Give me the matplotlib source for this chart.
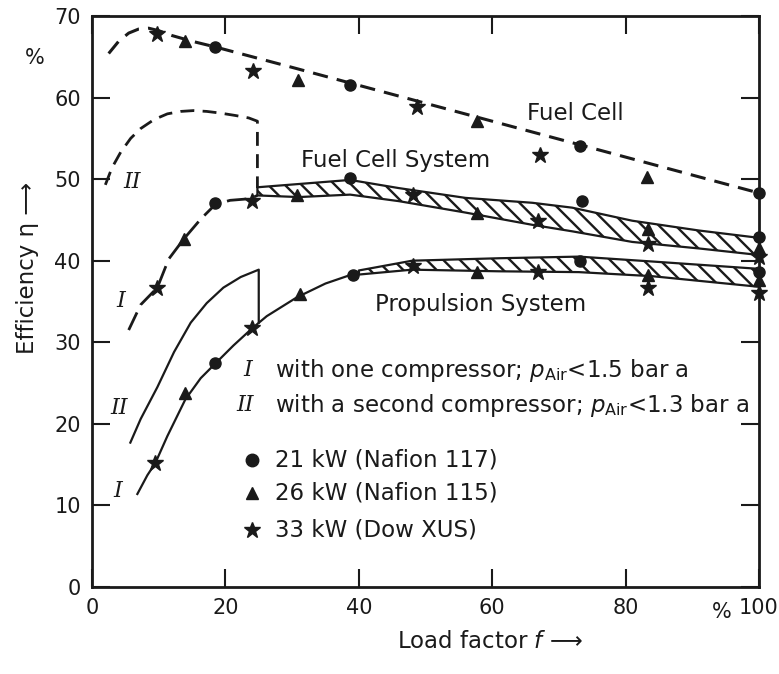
import matplotlib
matplotlib.use("Agg")
import matplotlib.pyplot as plt

# ---- data (load factor f in %, efficiency eta in %) ----
# Fuel cell line
fc_f = [2.5, 4, 5.5, 7, 8.5, 10, 12, 15, 18.5, 30, 45, 60, 75, 90, 100]
fc_eta = [65.4, 66.9, 67.9, 68.4, 68.5, 68.2, 67.6, 66.9, 66.2, 63.7, 60.4, 57.1, 53.8, 50.5, 48.3]

# Fuel cell system, variant II (second compressor)
fcs2_f = [2.0, 3.0, 4.3, 5.8, 7.3, 9.3, 11.3, 13.3, 15.2, 17.2, 19.2, 21.5, 23.5, 24.8, 24.8]
fcs2_eta = [49.3, 51.4, 53.3, 55.0, 56.2, 57.3, 58.0, 58.3, 58.4, 58.3, 58.1, 57.8, 57.5, 57.1, 48.9]

# Fuel cell system, variant I (one compressor)
fcs1_f = [5.5, 7.3, 9.8, 11.5, 13.8, 16.3, 18.5, 20.7, 23.7, 24.8]
fcs1_eta = [31.5, 34.6, 36.7, 40.2, 42.7, 45.1, 46.9, 47.4, 47.6, 48.0]

# Fuel cell system band (f >= 25)
band1_f = [24.8, 31, 38.7, 46, 56, 66, 72, 81, 91, 100]
band1_hi = [49.0, 49.4, 49.9, 48.9, 47.7, 47.1, 46.5, 44.9, 43.7, 42.8]
band1_lo = [48.0, 47.8, 48.1, 47.3, 45.9, 44.4, 43.6, 42.3, 41.5, 40.7]

# Propulsion system, variant II
ps2_f = [5.75, 7.3, 9.8, 12.3, 14.8, 17.2, 19.7, 22.3, 25.0, 25.0]
ps2_eta = [17.7, 20.6, 24.5, 28.8, 32.4, 34.8, 36.7, 38.0, 38.9, 32.4]

# Propulsion system, variant I
ps1_f = [6.8, 8.3, 9.5, 11.3, 14.0, 16.3, 18.5, 21.2, 24.0, 26.2, 30.7, 35, 40]
ps1_eta = [11.4, 13.7, 15.2, 18.5, 23.0, 25.6, 27.4, 29.6, 31.7, 33.2, 35.5, 37.2, 38.6]

# Propulsion system band (f >= 40)
band2_f = [40, 48, 61, 73, 84, 100]
band2_hi = [38.8, 40.0, 40.3, 40.5, 39.9, 39.0]
band2_lo = [38.3, 38.9, 38.7, 38.6, 38.1, 36.8]

# measured points: 21 kW (circle), 26 kW (triangle), 33 kW (star)
fc_circ_f, fc_circ_eta = [18.5, 38.7, 73.2, 100], [66.2, 61.5, 54.1, 48.3]
fc_tri_f, fc_tri_eta = [14, 30.9, 57.7, 83.2], [66.9, 62.2, 57.1, 50.2]
fc_star_f, fc_star_eta = [9.8, 24.2, 48.8, 67.2], [67.8, 63.3, 58.9, 53.0]

fcs_circ_f, fcs_circ_eta = [18.5, 38.7, 73.4, 100], [47.1, 50.1, 47.3, 42.9]
fcs_tri_f, fcs_tri_eta = [13.8, 30.8, 57.7, 83.4, 100], [42.7, 48.1, 45.9, 43.9, 41.5]
fcs_star_f, fcs_star_eta = [9.8, 24.0, 48.2, 66.9, 83.4, 100], [36.7, 47.3, 48.1, 44.9, 42.0, 40.4]

ps_circ_f, ps_circ_eta = [18.5, 39.2, 73.2, 100], [27.4, 38.2, 40.0, 38.6]
ps_tri_f, ps_tri_eta = [14.0, 31.2, 57.7, 83.4, 100], [23.8, 35.9, 38.6, 38.2, 37.6]
ps_star_f, ps_star_eta = [9.5, 24.0, 48.2, 66.9, 83.4, 100], [15.2, 31.7, 39.4, 38.6, 36.7, 36.1]

x_ticks = [0, 20, 40, 60, 80, 100]
y_ticks = [0, 10, 20, 30, 40, 50, 60, 70]

plt.rcParams['font.family'] = ['DejaVu Sans']
plt.rcParams['hatch.linewidth'] = 1.7
plt.rcParams['mathtext.fontset'] = 'dejavusans'

fig = plt.figure(figsize=(7.79, 6.74), dpi=100)
ax = fig.add_axes([0.1181, 0.1291, 0.8562, 0.8472])

ink = '#1a1a1a'

# curves
ax.plot(fc_f, fc_eta, color=ink, lw=2.2, dashes=(5, 3))
ax.plot(fcs2_f, fcs2_eta, color=ink, lw=2.0, dashes=(5, 3))
ax.plot(fcs1_f, fcs1_eta, color=ink, lw=2.0, dashes=(7, 3))
ax.fill_between(band1_f, band1_lo, band1_hi, facecolor='white', edgecolor=ink,
                hatch='\\\\', lw=1.6)
ax.plot(ps2_f, ps2_eta, color=ink, lw=1.6)
ax.plot(ps1_f, ps1_eta, color=ink, lw=1.6)
ax.fill_between(band2_f, band2_lo, band2_hi, facecolor='white', edgecolor=ink,
                hatch='\\\\', lw=1.6)

# markers
mk = dict(color=ink, ls='none', clip_on=False, zorder=5)
for ff, ee in [(fc_circ_f, fc_circ_eta), (fcs_circ_f, fcs_circ_eta), (ps_circ_f, ps_circ_eta)]:
    ax.plot(ff, ee, marker='o', ms=8, **mk)
for ff, ee in [(fc_tri_f, fc_tri_eta), (fcs_tri_f, fcs_tri_eta), (ps_tri_f, ps_tri_eta)]:
    ax.plot(ff, ee, marker='^', ms=8.5, **mk)
for ff, ee in [(fc_star_f, fc_star_eta), (fcs_star_f, fcs_star_eta), (ps_star_f, ps_star_eta)]:
    ax.plot(ff, ee, marker='*', ms=12, **mk)

# curve names
fs = 16.5
ax.text(72.5, 58.1, 'Fuel Cell', fontsize=fs, ha='center', va='center', color=ink)
ax.text(45.5, 52.3, 'Fuel Cell System', fontsize=fs, ha='center', va='center', color=ink)
ax.text(58.3, 34.6, 'Propulsion System', fontsize=fs, ha='center', va='center', color=ink)

# variant labels
roman = dict(family='DejaVu Serif', style='italic', fontsize=16, color=ink,
             ha='center', va='center')
ax.text(6.0, 49.6, 'II', **roman)
ax.text(4.3, 35.0, 'I', **roman)
ax.text(4.0, 22.0, 'II', **roman)
ax.text(3.8, 11.8, 'I', **roman)

# explanation block
ax.text(23.4, 26.6, 'I', **roman)
ax.text(22.9, 22.3, 'II', **roman)
ax.text(27.4, 26.6, r'with one compressor; $p_{\mathrm{Air}}$<1.5 bar a', fontsize=fs,
        ha='left', va='center', color=ink)
ax.text(27.4, 22.3, r'with a second compressor; $p_{\mathrm{Air}}$<1.3 bar a', fontsize=fs,
        ha='left', va='center', color=ink)

leg_f = 24.0
leg_rows = [('o', 9, 15.6, '21 kW (Nafion 117)'),
            ('^', 9, 11.5, '26 kW (Nafion 115)'),
            ('*', 12, 7.0, '33 kW (Dow XUS)')]
for m, s, yy, lab in leg_rows:
    ax.plot([leg_f], [yy], marker=m, ms=s, color=ink, ls='none')
    ax.text(27.4, yy, lab, fontsize=fs, ha='left', va='center', color=ink)

# axes styling
ax.set_xlim(0, 100)
ax.set_ylim(0, 70)
ax.set_xticks(x_ticks)
ax.set_yticks(y_ticks)
ax.tick_params(direction='in', length=13, width=1.5, top=True, right=True,
               labelsize=15, colors=ink, pad=8)
for sp in ax.spines.values():
    sp.set_linewidth(2.0)
    sp.set_color(ink)

fig.text(35 / 779, 1 - 58 / 674, '%', fontsize=15, ha='center', va='center', color=ink)
fig.text(722 / 779, 1 - 612 / 674, '%', fontsize=15, ha='center', va='center', color=ink)
fig.text(490 / 779, 1 - 642 / 674, r'Load factor $f$ ⟶', fontsize=16.5,
         ha='center', va='center', color=ink)
fig.text(28 / 779, 1 - 268 / 674, 'Efficiency η ⟶', fontsize=16.5, rotation=90,
         ha='center', va='center', color=ink)

fig.savefig('out.png', dpi=100)
